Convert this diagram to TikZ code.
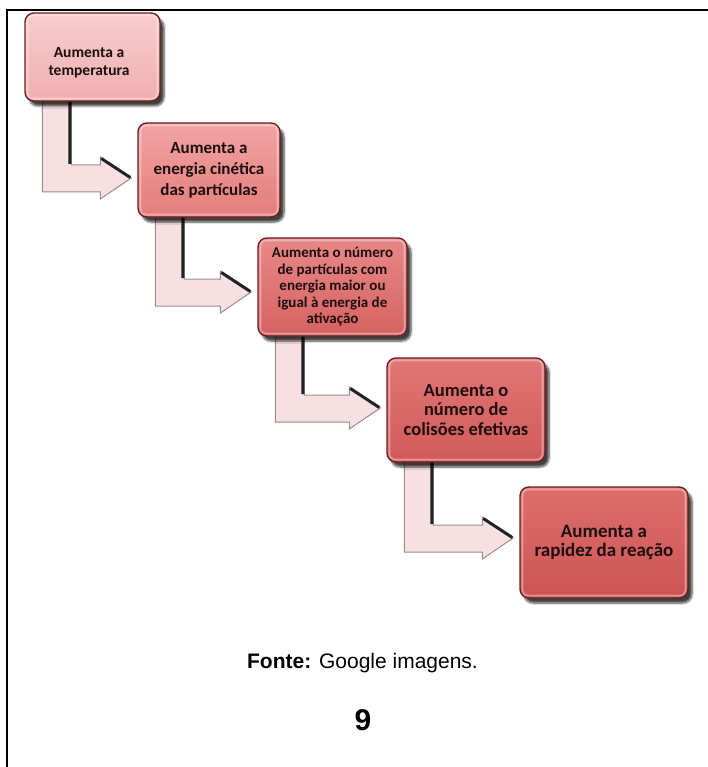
\documentclass[tikz,border=0pt]{standalone}
\usepackage{fontspec}
\setmainfont{Liberation Sans}
\newfontfamily\boxfont{Carlito}
\usetikzlibrary{calc,shadows,shadows.blur,backgrounds}
\definecolor{cardborder}{HTML}{6E1E1E}
\definecolor{cardtext}{HTML}{1E0E0E}
\definecolor{cAt}{HTML}{F8CDCD}\definecolor{cAb}{HTML}{F0AFAF}
\definecolor{cBt}{HTML}{F2A4A4}\definecolor{cBb}{HTML}{E47C7C}
\definecolor{cCt}{HTML}{E88888}\definecolor{cCb}{HTML}{D56262}
\definecolor{cDt}{HTML}{E27676}\definecolor{cDb}{HTML}{D05A5A}
\definecolor{cEt}{HTML}{DE6E6E}\definecolor{cEb}{HTML}{CC5454}
\definecolor{arrowfill}{HTML}{F6E0E2}
\definecolor{arrowedge}{HTML}{9C8A8C}
\definecolor{arrowdark}{HTML}{222222}
\tikzset{
  card/.style={rectangle, rounded corners=9pt, draw=cardborder, line width=1.4pt,
    inner sep=2pt, align=center, text=cardtext,
    blur shadow={shadow xshift=4pt, shadow yshift=-5pt, shadow opacity=75, shadow blur steps=6}},
  bevel/.style={draw=white, draw opacity=0.35, line width=2pt, rounded corners=6pt},
  arrowbody/.style={fill=arrowfill, draw=arrowedge, line width=1pt, line join=miter},
  arrowshade/.style={draw=arrowdark, line width=3pt},
  frameline/.style={line width=2pt, draw=black},
  cardlabel/.style={align=center, text=cardtext}
}
% #1 source node, #2 target node, #3 vertical offset of the tip (pt, downwards)
\newcommand\bentarrow[3]{%
  \path[arrowbody] let \p1=(#1.south west), \p2=(#2.west) in
    (\x1+18pt,\y1+8pt) -- (\x1+18pt,\y2-#3pt-14pt) -- (\x2-37pt,\y2-#3pt-14pt)
    -- (\x2-37pt,\y2-#3pt-21pt) -- (\x2-6pt,\y2-#3pt) -- (\x2-37pt,\y2-#3pt+21pt)
    -- (\x2-37pt,\y2-#3pt+13pt) -- (\x1+47pt,\y2-#3pt+13pt) -- (\x1+47pt,\y1+8pt) -- cycle;
  \path[arrowshade] let \p1=(#1.south west), \p2=(#2.west) in
    (\x1+45.5pt,\y1+8pt) -- (\x1+45.5pt,\y2-#3pt+14pt)
    (\x2-36pt,\y2-#3pt+19.5pt) -- (\x2-7pt,\y2-#3pt+0.5pt);
}
\newcommand\cardbevel[1]{%
  \draw[bevel] ($(#1.south west)+(3,-3)$) rectangle ($(#1.north east)+(-3,3)$);
}
\begin{document}
\begin{tikzpicture}[x=1pt,y=-1pt]
\useasboundingbox (0,0) rectangle (708,767);
\draw[frameline] (7,767) -- (7,10.5) -- (708,10.5);

\node[card, minimum width=135pt, minimum height=88pt, top color=cAt, bottom color=cAb] (b1) at (92.5,57) {};
\node[cardlabel, font=\boxfont\bfseries\fontsize{15.5}{18}\selectfont] (b1t) at (89,63) {Aumenta a\\temperatura};
\node[card, minimum width=142pt, minimum height=94pt, top color=cBt, bottom color=cBb,
  font=\boxfont\bfseries\fontsize{17}{21}\selectfont] (b2) at (209,170) {Aumenta a\\energia cinética\\das partículas};
\node[card, minimum width=149pt, minimum height=98pt, top color=cCt, bottom color=cCb,
  font=\boxfont\bfseries\fontsize{15}{16.5}\selectfont] (b3) at (332.5,287) {Aumenta o número\\de partículas com\\energia maior ou\\igual à energia de\\ativação};
\node[card, minimum width=158pt, minimum height=104pt, top color=cDt, bottom color=cDb,
  font=\boxfont\bfseries\fontsize{18.5}{19.5}\selectfont] (b4) at (466,410) {Aumenta o\\número de\\colisões efetivas};
\node[card, minimum width=168pt, minimum height=111pt, top color=cEt, bottom color=cEb,
  font=\boxfont\bfseries\fontsize{19}{19.5}\selectfont] (b5) at (604,542.5) {Aumenta a\\rapidez da reação};

\cardbevel{b1}\cardbevel{b2}\cardbevel{b3}\cardbevel{b4}\cardbevel{b5}

\begin{scope}[on background layer]
\bentarrow{b1}{b2}{8}
\bentarrow{b2}{b3}{5}
\bentarrow{b3}{b4}{-2}
\bentarrow{b4}{b5}{-4.5}
\end{scope}

\node[font=\fontsize{21}{25}\selectfont, anchor=base] (src) at (362.5,668) {\textbf{Fonte:} Google imagens.};
\node[font=\bfseries\fontsize{30}{36}\selectfont, anchor=base] (pg) at (363,730) {9};
\end{tikzpicture}
\end{document}
